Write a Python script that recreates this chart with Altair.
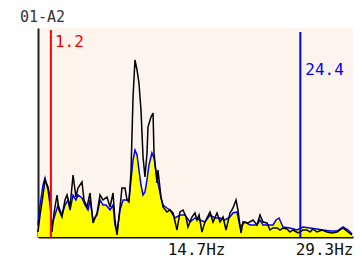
import altair as alt
import pandas as pd

# Spectrum values (frequency in Hz, amplitude in arbitrary units)
black_hz = [0.00, 0.19, 0.47, 0.65, 0.93, 1.12, 1.30, 1.49, 1.77, 1.95, 2.23, 2.51, 2.70, 2.98,
            3.26, 3.53, 3.72, 4.09, 4.28, 4.56, 4.84, 5.12, 5.49, 5.77, 6.05, 6.42, 6.70, 6.98,
            7.16, 7.35, 7.63, 7.81, 8.09, 8.28, 8.46, 8.65, 8.84, 9.02, 9.21, 9.39, 9.58, 9.77,
            9.95, 10.14, 10.23, 10.51, 10.70, 10.79, 11.07, 11.16, 11.44, 11.63, 12.00, 12.28,
            12.56, 12.93, 13.21, 13.49, 13.77, 13.95, 14.32, 14.60, 14.79, 14.98, 15.25, 15.53,
            16.00, 16.28, 16.65, 16.93, 17.21, 17.49, 17.86, 18.14, 18.42, 18.60, 18.88, 19.07,
            19.53, 20.00, 20.37, 20.65, 20.93, 21.30, 21.58, 21.86, 22.23, 22.51, 22.79, 23.16,
            23.44, 23.72, 24.18, 24.65, 25.02, 25.30, 25.58, 25.95, 26.42, 26.88, 27.35, 27.81,
            28.37, 28.84, 29.21]
black_amp = [5, 22, 42, 57, 50, 40, 5, 24, 42, 27, 20, 37, 42, 30,
             62, 40, 49, 55, 37, 30, 44, 14, 24, 42, 37, 40, 30, 44,
             17, 2, 30, 49, 49, 37, 35, 65, 140, 177, 167, 154, 127, 80,
             60, 84, 110, 120, 124, 84, 54, 67, 40, 30, 25, 27,
             24, 7, 25, 27, 20, 10, 20, 24, 17, 22, 5, 15,
             25, 15, 24, 15, 20, 7, 24, 29, 37, 27, 4, 15,
             14, 17, 12, 22, 15, 14, 7, 9, 9, 7, 9, 8,
             5, 7, 4, 7, 7, 5, 8, 5, 7, 5, 4, 5,
             9, 5, 2]

blue_hz = [0.00, 0.19, 0.47, 0.65, 0.93, 1.12, 1.30, 1.58, 1.86, 2.23, 2.51, 2.79, 2.98, 3.26,
           3.53, 3.72, 4.09, 4.37, 4.65, 4.84, 5.12, 5.49, 5.77, 6.05, 6.33, 6.70, 6.98, 7.16,
           7.35, 7.63, 7.91, 8.19, 8.46, 8.65, 8.84, 9.02, 9.21, 9.39, 9.58, 9.77, 9.95, 10.14,
           10.32, 10.60, 10.79, 11.07, 11.26, 11.44, 11.63, 12.00, 12.28, 12.74, 13.21, 13.67,
           14.14, 14.60, 15.07, 15.53, 16.00, 16.46, 16.93, 17.39, 17.86, 18.14, 18.51, 18.79,
           19.25, 19.72, 20.37, 20.65, 20.93, 21.39, 21.86, 22.14, 22.42, 22.79, 23.44, 24.09,
           24.65, 25.30, 25.95, 26.51, 27.16, 27.81, 28.37, 28.84, 29.21]
blue_amp = [12, 32, 52, 59, 47, 32, 12, 22, 32, 22, 32, 37, 27, 42,
            37, 42, 39, 32, 27, 37, 17, 22, 37, 32, 32, 27, 32, 12,
            5, 27, 37, 37, 37, 57, 77, 87, 82, 67, 52, 42, 45, 57,
            72, 84, 79, 59, 49, 39, 32, 29, 27, 19, 22, 22,
            15, 19, 17, 15, 22, 19, 19, 17, 20, 24, 25, 10,
            15, 12, 12, 17, 12, 12, 12, 17, 19, 10, 9, 7,
            10, 9, 8, 7, 6, 6, 10, 7, 3]

tick_values = [14.7, 29.3]
tick_labels = ["14.7Hz", "29.3Hz"]
marker_hz = [1.2, 24.4]
marker_text = ["1.2", "24.4"]
marker_colors = ["#ff0000", "#0000ff"]
title_text = "01-A2"

FONT = "DejaVu Sans Mono"
X_MAX = 29.3
Y_MAX = 209

black_df = pd.DataFrame({"hz": black_hz, "amp": black_amp})
blue_df = pd.DataFrame({"hz": blue_hz, "amp": blue_amp})

label_expr = "datum.value == 14.7 ? '" + tick_labels[0] + "' : '" + tick_labels[1] + "'"

xscale = alt.Scale(domain=[0, X_MAX], nice=False, zero=True)
yscale = alt.Scale(domain=[0, Y_MAX], nice=False)

x_enc = alt.X("hz:Q", scale=xscale,
              axis=alt.Axis(values=tick_values, labelExpr=label_expr, title=None, grid=False,
                            ticks=False, labelFlush=True, labelPadding=4, labelFont=FONT,
                            labelFontSize=16, labelColor="#111111", domainColor="#111111",
                            domainWidth=2))
y_enc = alt.Y("amp:Q", scale=yscale,
              axis=alt.Axis(labels=False, ticks=False, title=None, grid=False,
                            domainColor="#222222", domainWidth=2))

area = alt.Chart(blue_df).mark_area(color="#ffff00", opacity=1).encode(x=x_enc, y=y_enc)
blue_line = alt.Chart(blue_df).mark_line(color="#0000ff", strokeWidth=1.5).encode(x="hz:Q", y="amp:Q")
black_line = alt.Chart(black_df).mark_line(color="#000000", strokeWidth=1.5).encode(x="hz:Q", y="amp:Q")

red_rule = alt.Chart(pd.DataFrame({"hz": [marker_hz[0]]})).mark_rule(
    color=marker_colors[0], strokeWidth=2).encode(x="hz:Q", y=alt.value(2), y2=alt.value(209))
blue_rule = alt.Chart(pd.DataFrame({"hz": [marker_hz[1]]})).mark_rule(
    color=marker_colors[1], strokeWidth=2).encode(x="hz:Q", y=alt.value(4), y2=alt.value(209))

red_label = alt.Chart(pd.DataFrame({"hz": [marker_hz[0]], "t": [marker_text[0]]})).mark_text(
    color=marker_colors[0], font=FONT, fontSize=16, align="left", baseline="alphabetic", dx=4
).encode(x="hz:Q", y=alt.value(19), text="t:N")
blue_label = alt.Chart(pd.DataFrame({"hz": [marker_hz[1]], "t": [marker_text[1]]})).mark_text(
    color=marker_colors[1], font=FONT, fontSize=16, align="left", baseline="alphabetic", dx=5
).encode(x="hz:Q", y=alt.value(47), text="t:N")

title = alt.Chart(pd.DataFrame({"t": [title_text]})).mark_text(
    color="#333333", font=FONT, fontSize=15, align="left", baseline="alphabetic"
).encode(x=alt.value(-18), y=alt.value(-6), text="t:N")

chart = alt.layer(area, blue_line, black_line, red_rule, blue_rule, red_label, blue_label,
                  title).properties(
    width=315, height=209,
    autosize=alt.AutoSizeParams(type="none"),
    padding={"left": 30, "top": 20, "right": 1, "bottom": 20},
).configure_view(fill="#fdf4ee", stroke=None)

chart.save("out.html", embed_options={"renderer": "svg", "actions": False})
